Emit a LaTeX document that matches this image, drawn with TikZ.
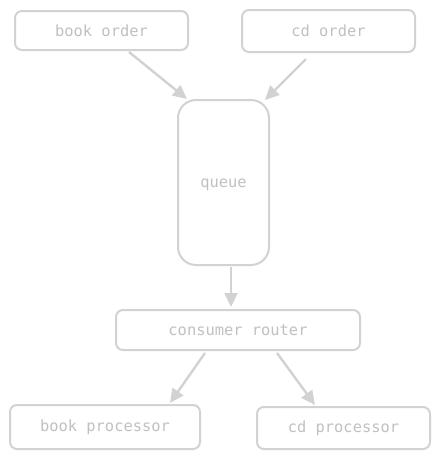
\documentclass[tikz,border=0pt]{standalone}
\usepackage{fontspec}
\setmonofont{DejaVu Sans Mono}
\usetikzlibrary{arrows.meta}
\definecolor{linegray}{HTML}{D2D2D2}
\definecolor{textgray}{HTML}{C0C0C0}
\begin{document}
\begin{tikzpicture}[x=1pt,y=-1pt,
  box/.style={draw=linegray, line width=2pt, rounded corners=7pt, inner sep=0pt,
    text=textgray, font=\ttfamily\fontsize{15.4}{17}\selectfont},
  conn/.style={draw=linegray, line width=2.4pt, -{Triangle[length=14pt,width=13pt]}}]
\useasboundingbox (0,0) rectangle (440,459);
\node[box, minimum width=173pt, minimum height=39pt] (bo) at (101.5,30.5) {book order};
\node[box, minimum width=173pt, minimum height=42pt] (co) at (328.5,31) {cd order};
\node[box, rounded corners=18pt, minimum width=91pt, minimum height=165pt] (q) at (223.5,182.5) {\raisebox{-5pt}[0pt][0pt]{queue}};
\node[box, minimum width=244pt, minimum height=40pt] (r) at (238,330) {consumer router};
\node[box, minimum width=190pt, minimum height=44pt] (bp) at (105,427) {book processor};
\node[box, minimum width=173pt, minimum height=42pt] (cp) at (343.5,428) {cd processor};
\draw[conn] ([xshift=27.5pt,yshift=-1pt]bo.south) -- ([xshift=-36.5pt]q.north);
\draw[conn] ([xshift=-22.5pt,yshift=-6pt]co.south) -- ([xshift=41.5pt,yshift=-1pt]q.north);
\draw[conn] ([xshift=7.5pt,yshift=-1pt]q.south) -- ([xshift=-7pt,yshift=2pt]r.north);
\draw[conn] ([xshift=-33pt,yshift=-2pt]r.south) -- ([xshift=65pt,yshift=1pt]bp.north);
\draw[conn] ([xshift=39pt,yshift=-2pt]r.south) -- ([xshift=-28.5pt,yshift=1pt]cp.north);
\end{tikzpicture}
\end{document}
